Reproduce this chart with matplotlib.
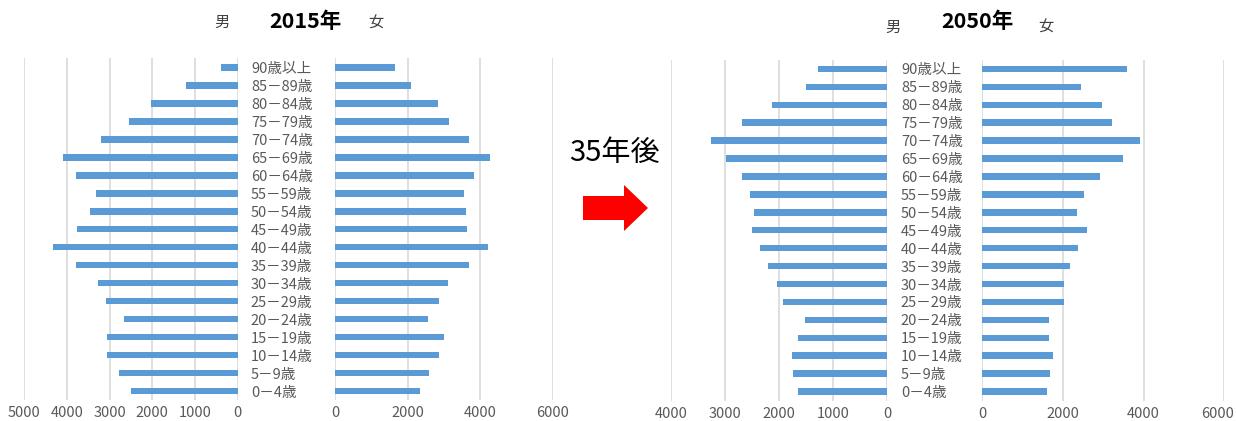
import matplotlib
matplotlib.use("Agg")
import matplotlib.pyplot as plt
from matplotlib.patches import Polygon
from matplotlib.transforms import ScaledTranslation

plt.rcParams['font.family'] = ['Noto Sans CJK JP', 'DejaVu Sans']

# age groups, bottom to top
age_labels = ['0－4歳', '5－9歳', '10－14歳', '15－19歳', '20－24歳', '25－29歳',
              '30－34歳', '35－39歳', '40－44歳', '45－49歳', '50－54歳', '55－59歳',
              '60－64歳', '65－69歳', '70－74歳', '75－79歳', '80－84歳', '85－89歳',
              '90歳以上']

male_2015 = [2490, 2770, 3060, 3060, 2670, 3080, 3280, 3800, 4330, 3760,
             3450, 3330, 3800, 4100, 3200, 2550, 2020, 1210, 400]
female_2015 = [2340, 2580, 2870, 3010, 2550, 2870, 3120, 3700, 4210, 3640,
               3610, 3560, 3820, 4280, 3680, 3150, 2850, 2090, 1650]

male_2050 = [1640, 1730, 1760, 1640, 1520, 1930, 2030, 2200, 2350, 2500,
             2460, 2530, 2680, 2980, 3250, 2680, 2130, 1500, 1280]
female_2050 = [1600, 1680, 1745, 1660, 1660, 2030, 2030, 2180, 2370, 2590,
               2340, 2520, 2920, 3480, 3900, 3210, 2960, 2450, 3580]

BAR = '#5B9BD5'
GRID = '#D9D9D9'
TXT = '#595959'

W, H = 1236, 421
fig = plt.figure(figsize=(W / 100, H / 100), dpi=100)


def px_axes(x0, x1, ytop, ybot):
    # axes rectangle given in pixel coordinates (origin top-left)
    return fig.add_axes([x0 / W, 1 - ybot / H, (x1 - x0) / W, (ybot - ytop) / H])


def style(ax, xmax, step, xpad=4.5):
    ax.set_xlim(0, xmax)
    ax.set_xticks(range(0, xmax + 1, step))
    ax.set_ylim(-0.5, len(age_labels) - 0.5)
    ax.grid(axis='x', color=GRID, linewidth=1.2)
    ax.set_axisbelow(True)
    for s in ax.spines.values():
        s.set_visible(False)
    ax.tick_params(axis='x', length=0, labelsize=10.5, labelcolor=TXT, pad=xpad)
    ax.tick_params(axis='y', length=0)


def male_panel(x0, x1, ytop, ybot, values, xmax, pad):
    ax = px_axes(x0, x1, ytop, ybot)
    y = range(len(age_labels))
    ax.barh(y, values, height=0.36, color=BAR)
    style(ax, xmax, 1000)
    ax.invert_xaxis()
    ax.yaxis.tick_right()
    ax.set_yticks(list(y))
    ax.set_yticklabels(age_labels, fontsize=10.5, color=TXT)
    ax.tick_params(axis='y', pad=pad)
    return ax


def female_panel(x0, x1, ytop, ybot, values, xmax, xpad=4.5):
    ax = px_axes(x0, x1, ytop, ybot)
    y = range(len(age_labels))
    ax.barh(y, values, height=0.36, color=BAR)
    style(ax, xmax, 2000, xpad)
    ax.set_yticks([])
    return ax


# 2015
male_panel(24.3, 237.7, 58.5, 400, male_2015, 5000, 9.5)
female_panel(335, 552.7, 58.5, 400, female_2015, 6000)

# 2050
male_panel(670.7, 887, 60, 400.5, male_2050, 4000, 10)
ax_f50 = female_panel(982.3, 1224.3, 60, 400.5, female_2050, 6000)
# keep the last tick label inside the picture
last = ax_f50.get_xticklabels()[-1]
last.set_transform(last.get_transform() + ScaledTranslation(-7 / 100, 0, fig.dpi_scale_trans))


def ftext(x, y, s, **kw):
    fig.text(x / W, 1 - y / H, s, ha='center', va='center', **kw)


ftext(221.5, 22, '男', fontsize=11, color='#404040')
ftext(305.5, 22, '2015年', fontsize=15.5, fontweight='bold', color='black')
ftext(376, 23, '女', fontsize=11, color='#404040')

ftext(892.5, 27, '男', fontsize=11, color='#404040')
ftext(977.5, 22, '2050年', fontsize=15.5, fontweight='bold', color='black')
ftext(1046, 27, '女', fontsize=11, color='#404040')

ftext(614, 153, '35年後', fontsize=21, color='black')

# red arrow
arrow_px = [(583, 196), (624, 196), (624, 185), (648, 208), (624, 231),
            (624, 220), (583, 220)]
fig.add_artist(Polygon([(x / W, 1 - y / H) for x, y in arrow_px], closed=True,
                       transform=fig.transFigure, facecolor='#FF0000',
                       edgecolor='none'))

fig.savefig('out.png', dpi=100)
